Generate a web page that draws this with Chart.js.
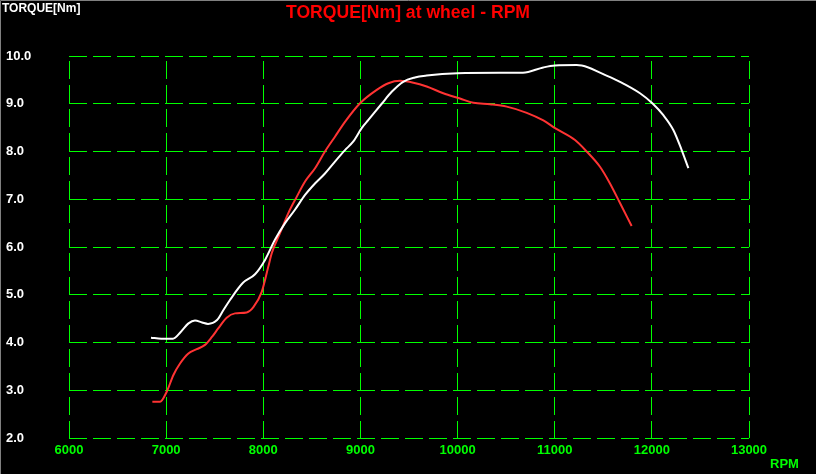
<!DOCTYPE html>
<html>
<head>
<meta charset="utf-8">
<script src="https://cdn.jsdelivr.net/npm/chart.js@4/dist/chart.umd.min.js"></script>
<style>
  html, body { margin: 0; padding: 0; background: #000; }
  #wrap { position: absolute; left: 0; top: 0; width: 816px; height: 474px; }
</style>
</head>
<body>
<div id="wrap"><canvas id="c" width="816" height="474"></canvas></div>
<script>
// ---- data ----
const chartTitle = 'TORQUE[Nm] at wheel - RPM';
const yAxisTitle = 'TORQUE[Nm]';
const xAxisTitle = 'RPM';
const xTicks = [6000, 7000, 8000, 9000, 10000, 11000, 12000, 13000];
const yTicks = [2.0, 3.0, 4.0, 5.0, 6.0, 7.0, 8.0, 9.0, 10.0];

const whiteRpm = [6844, 6950, 7070, 7150, 7230, 7297, 7370, 7431, 7524, 7590, 7657, 7791, 7915, 8018, 8120, 8224, 8326, 8430, 8532, 8635, 8738, 8841, 8927, 9013, 9082, 9219, 9322, 9440, 9560, 9682, 10000, 10437, 10673, 10883, 11003, 11226, 11346, 11466, 11672, 11878, 12005, 12118, 12221, 12307, 12376];
const whiteTorque = [4.10, 4.08, 4.08, 4.22, 4.40, 4.46, 4.42, 4.39, 4.47, 4.68, 4.89, 5.25, 5.43, 5.73, 6.15, 6.50, 6.78, 7.09, 7.33, 7.54, 7.79, 8.03, 8.21, 8.49, 8.66, 9.00, 9.25, 9.46, 9.55, 9.59, 9.64, 9.65, 9.65, 9.76, 9.80, 9.81, 9.76, 9.65, 9.46, 9.22, 9.01, 8.76, 8.45, 8.03, 7.65];

const redRpm = [6858, 6937, 7006, 7075, 7143, 7229, 7315, 7400, 7469, 7538, 7623, 7709, 7829, 7898, 7984, 8052, 8087, 8172, 8258, 8344, 8430, 8533, 8635, 8738, 8841, 8996, 9168, 9288, 9408, 9545, 9682, 9853, 10025, 10163, 10334, 10506, 10712, 10883, 11003, 11209, 11329, 11466, 11569, 11672, 11792];
const redTorque = [2.76, 2.76, 2.97, 3.32, 3.56, 3.77, 3.86, 3.95, 4.11, 4.30, 4.52, 4.61, 4.63, 4.74, 5.06, 5.59, 5.87, 6.29, 6.71, 7.05, 7.37, 7.65, 8.00, 8.31, 8.62, 9.01, 9.29, 9.43, 9.48, 9.44, 9.36, 9.22, 9.11, 9.02, 8.99, 8.94, 8.81, 8.65, 8.49, 8.24, 8.00, 7.68, 7.33, 6.92, 6.44];

const toPoints = (xs, ys) => xs.map((x, i) => ({ x: x, y: ys[i] }));

const GREEN = '#00ff00';
const FONT = "'Liberation Sans', Arial, sans-serif";

const decor = {
  id: 'decor',
  beforeDraw(chart) {
    const ctx = chart.ctx;
    ctx.save();
    ctx.fillStyle = '#000';
    ctx.fillRect(0, 0, chart.width, chart.height);
    ctx.restore();
  },
  afterDraw(chart) {
    const ctx = chart.ctx;
    ctx.save();
    // frame edges
    ctx.strokeStyle = '#808080';
    ctx.lineWidth = 1;
    ctx.beginPath();
    ctx.moveTo(0.5, chart.height); ctx.lineTo(0.5, 0.5); ctx.lineTo(chart.width, 0.5);
    ctx.stroke();
    ctx.textBaseline = 'alphabetic';
    // title
    ctx.fillStyle = '#ff0000';
    ctx.font = 'bold 17.6px ' + FONT;
    ctx.textAlign = 'center';
    ctx.fillText(chartTitle, 408, 18);
    // y title
    ctx.fillStyle = '#ffffff';
    ctx.font = 'bold 12px ' + FONT;
    ctx.textAlign = 'left';
    ctx.fillText(yAxisTitle, 2, 12);
    // x title
    ctx.fillStyle = GREEN;
    ctx.font = 'bold 13px ' + FONT;
    ctx.fillText(xAxisTitle, 770, 468);
    ctx.restore();
  }
};

new Chart(document.getElementById('c'), {
  type: 'line',
  data: {
    datasets: [
      { data: toPoints(whiteRpm, whiteTorque), borderColor: '#ffffff', borderWidth: 2, pointRadius: 0, cubicInterpolationMode: 'monotone', fill: false },
      { data: toPoints(redRpm, redTorque), borderColor: '#ff3333', borderWidth: 2, pointRadius: 0, cubicInterpolationMode: 'monotone', fill: false }
    ]
  },
  options: {
    responsive: false,
    animation: false,
    devicePixelRatio: 1,
    layout: { padding: { left: 6, right: 67, top: 56, bottom: 0 } },
    plugins: { legend: { display: false }, title: { display: false }, tooltip: { enabled: false } },
    scales: {
      x: {
        type: 'linear',
        min: xTicks[0], max: xTicks[xTicks.length - 1],
        afterBuildTicks: (s) => { s.ticks = xTicks.map(v => ({ value: v })); },
        afterFit: (s) => { s.height = 36; },
        ticks: { color: GREEN, font: { family: FONT, size: 13, weight: 'bold' }, padding: 5, maxRotation: 0, autoSkip: false, callback: (v) => String(v) },
        grid: { color: GREEN, lineWidth: 1, drawTicks: false },
        border: { display: false, dash: [18, 6], dashOffset: 19 }
      },
      y: {
        type: 'linear',
        min: yTicks[0], max: yTicks[yTicks.length - 1],
        afterBuildTicks: (s) => { s.ticks = yTicks.map(v => ({ value: v })); },
        afterFit: (s) => { s.width = 63; },
        ticks: { color: '#ffffff', font: { family: FONT, size: 13, weight: 'bold' }, crossAlign: 'far', padding: 0, autoSkip: false, callback: (v) => Number(v).toFixed(1) },
        grid: { color: GREEN, lineWidth: 1, drawTicks: false },
        border: { display: false, dash: [18, 6], dashOffset: 0 }
      }
    }
  },
  plugins: [decor]
});
</script>
</body>
</html>
